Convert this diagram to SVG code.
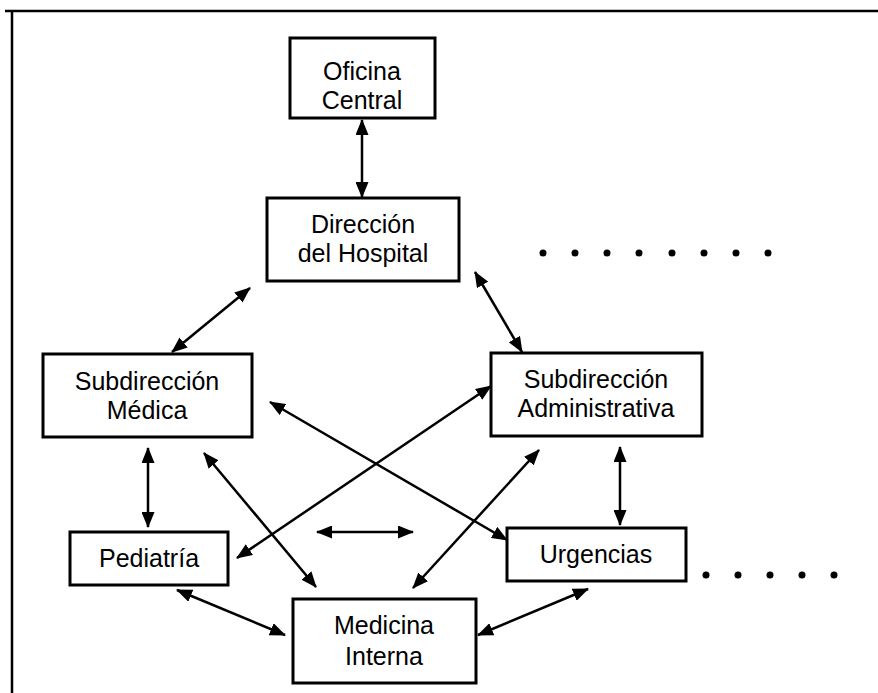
<svg xmlns="http://www.w3.org/2000/svg" width="878" height="693" viewBox="0 0 878 693">
<defs>
<marker id="ah" markerWidth="16" markerHeight="13" refX="15" refY="6.5" orient="auto-start-reverse" markerUnits="userSpaceOnUse">
<path d="M0,0 L16,6.5 L0,13 Z" fill="#000"/>
</marker>
<style>
.box{fill:#fff;stroke:#000;stroke-width:3}
.t{font-family:"Liberation Sans",Arial,sans-serif;font-size:25px;fill:#000;text-anchor:middle}
.c line{stroke:#000;stroke-width:2.5;marker-start:url(#ah);marker-end:url(#ah)}
.frame{stroke:#000;stroke-width:2.5;fill:none}
.dot{fill:#000}
</style>
</defs>
<rect width="878" height="693" fill="#fff"/>
<path class="frame" d="M5,11 H878 M12,11 V693"/>

<g id="oficina-central">
<rect class="box" x="290" y="38" width="145" height="80"/>
<text class="t" x="362" y="80">Oficina</text>
<text class="t" x="362" y="109">Central</text>
</g>
<g id="direccion-hospital">
<rect class="box" x="267" y="198" width="192" height="83"/>
<text class="t" x="363" y="233">Dirección</text>
<text class="t" x="363" y="262">del Hospital</text>
</g>
<g id="subdireccion-medica">
<rect class="box" x="43" y="354" width="209" height="83"/>
<text class="t" x="147" y="390">Subdirección</text>
<text class="t" x="147" y="419">Médica</text>
</g>
<g id="subdireccion-administrativa">
<rect class="box" x="491" y="353" width="211" height="83"/>
<text class="t" x="596" y="388">Subdirección</text>
<text class="t" x="596" y="417">Administrativa</text>
</g>
<g id="pediatria">
<rect class="box" x="70" y="532" width="158" height="53"/>
<text class="t" x="149" y="567">Pediatría</text>
</g>
<g id="urgencias">
<rect class="box" x="507" y="528" width="179" height="53"/>
<text class="t" x="596" y="563">Urgencias</text>
</g>
<g id="medicina-interna">
<rect class="box" x="293" y="599" width="183" height="84"/>
<text class="t" x="384" y="634">Medicina</text>
<text class="t" x="384" y="665">Interna</text>
</g>

<g id="connectors" class="c">
<line x1="362" y1="120" x2="362" y2="197"/>
<line x1="250" y1="288" x2="172" y2="352"/>
<line x1="475" y1="272" x2="522" y2="352"/>
<line x1="270" y1="402" x2="507" y2="540"/>
<line x1="237" y1="558" x2="491" y2="386"/>
<line x1="204" y1="453" x2="316" y2="587"/>
<line x1="539" y1="450" x2="413" y2="588"/>
<line x1="148" y1="448" x2="148" y2="527"/>
<line x1="317" y1="532" x2="413" y2="532"/>
<line x1="620" y1="447" x2="620" y2="525"/>
<line x1="177" y1="590" x2="285" y2="635"/>
<line x1="478" y1="635" x2="588" y2="589"/>
</g>

<g id="dots-top">
<circle class="dot" cx="543" cy="253" r="3.5"/>
<circle class="dot" cx="575" cy="253" r="3.5"/>
<circle class="dot" cx="607" cy="253" r="3.5"/>
<circle class="dot" cx="639" cy="253" r="3.5"/>
<circle class="dot" cx="672" cy="253" r="3.5"/>
<circle class="dot" cx="704" cy="253" r="3.5"/>
<circle class="dot" cx="736" cy="253" r="3.5"/>
<circle class="dot" cx="768" cy="253" r="3.5"/>
</g>
<g id="dots-bottom">
<circle class="dot" cx="706" cy="575" r="3.5"/>
<circle class="dot" cx="738" cy="575" r="3.5"/>
<circle class="dot" cx="770" cy="575" r="3.5"/>
<circle class="dot" cx="802" cy="575" r="3.5"/>
<circle class="dot" cx="834" cy="575" r="3.5"/>
</g>
</svg>
